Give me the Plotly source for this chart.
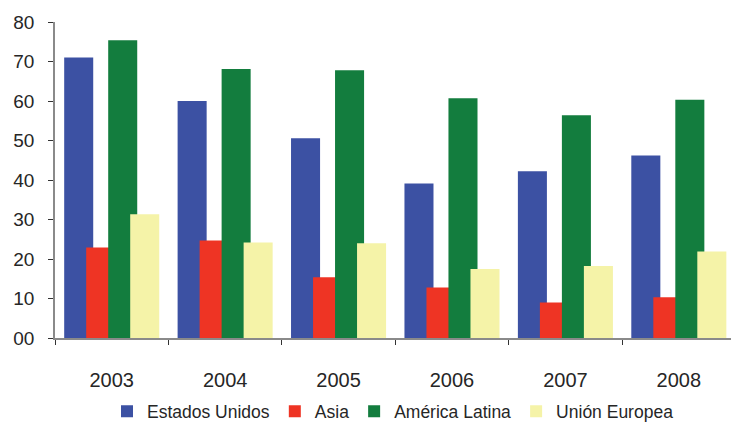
import plotly.graph_objects as go

years = ["2003", "2004", "2005", "2006", "2007", "2008"]
estados_unidos = [71.0, 60.0, 50.6, 39.1, 42.2, 46.2]
asia = [22.9, 24.7, 15.4, 12.8, 9.0, 10.3]
america_latina = [75.4, 68.1, 67.8, 60.7, 56.4, 60.3]
union_europea = [31.3, 24.2, 24.0, 17.5, 18.2, 21.9]

series_names = ["Estados Unidos", "Asia", "América Latina", "Unión Europea"]
series_values = [estados_unidos, asia, america_latina, union_europea]
colors = ["#3c51a3", "#ee3424", "#137d3e", "#f5f3a8"]

y_tickvals = [0, 10, 20, 30, 40, 50, 60, 70, 80]
y_ticktext = ["00", "10", "20", "30", "40", "50", "60", "70", "80"]

# overlapping bars: each one shifted a bit right of the previous
bar_width = 0.256
bar_step = 0.194
first_offset = -0.419

fig = go.Figure()
for i, (name, vals, col) in enumerate(zip(series_names, series_values, colors)):
    fig.add_trace(go.Bar(
        x=years, y=vals, name=name,
        marker=dict(color=col, line=dict(width=0)),
        width=bar_width,
        offset=first_offset + i * bar_step,
    ))

text_color = "#262626"
fig.update_layout(
    width=731, height=424,
    barmode="overlay",
    paper_bgcolor="white", plot_bgcolor="white",
    margin=dict(l=55, r=0, t=22, b=86, autoexpand=False),
    font=dict(family="Liberation Sans, Arial, sans-serif", color=text_color),
    showlegend=True,
    legend=dict(
        orientation="h", x=0.5, xanchor="center",
        yref="container", y=0.03, yanchor="middle",
        font=dict(size=17.5, color=text_color), itemwidth=30,
        tracegroupgap=0,
        traceorder="normal",
    ),
    xaxis=dict(
        type="category", range=[-0.5, 5.46], automargin=False,
        showline=True, linecolor="#8a8a8a", linewidth=1.5,
        ticks="outside", tickson="boundaries", ticklen=5, tickcolor="#333333",
        tickfont=dict(size=20, color=text_color),
        ticklabelstandoff=23,
        showgrid=False, zeroline=False, fixedrange=True,
    ),
    yaxis=dict(
        range=[0, 80], tickvals=y_tickvals, ticktext=y_ticktext, automargin=False,
        showline=True, linecolor="#8a8a8a", linewidth=1.5,
        ticks="outside", ticklen=5, tickcolor="#333333",
        tickfont=dict(size=19, color=text_color),
        ticklabelstandoff=10,
        showgrid=False, zeroline=False,
    ),
)

fig.write_html("out.html")
